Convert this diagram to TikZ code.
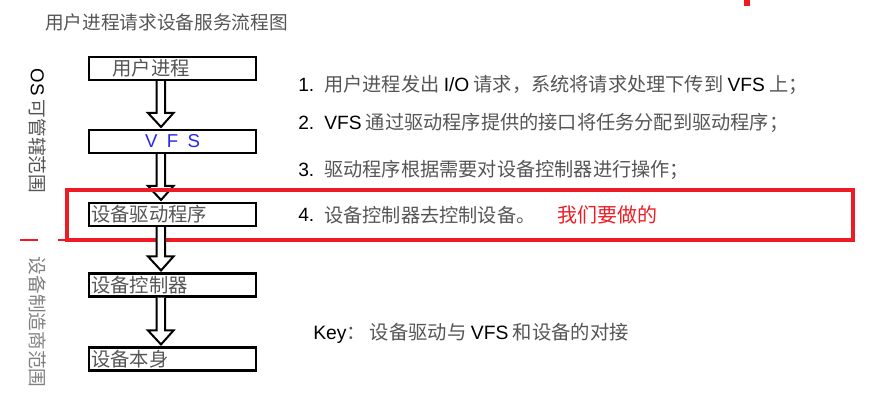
\documentclass[tikz,border=0pt]{standalone}
\usepackage{fontspec}
\setmainfont{Noto Sans CJK SC}
\newfontfamily\lat{Liberation Sans}
\usetikzlibrary{calc}
\definecolor{markred}{RGB}{237,28,36}
\definecolor{txtgray}{RGB}{85,85,85}
\definecolor{vfsblue}{RGB}{40,40,235}
\newcommand\en[1]{{\lat\color{black}#1}}
% hollow block arrow from the bottom of #1 to the top of #2
\newcommand\hollowdown[2]{%
  \draw[hollow] (#1.south -| 156.5,0) -- ($(#2.north -| 156.5,0)+(0,-16)$) -- ++(-8.5,0)
    -- ($(#2.north -| 161,0)+(0,-2)$) -- ($(#2.north -| 173.5,0)+(0,-16)$) -- ++(-8.5,0)
    -- (#1.south -| 165,0);}

\begin{document}
\begin{tikzpicture}[x=0.75pt,y=-0.75pt,
 layer/.style={draw,line width=1.8pt,minimum width=125pt,minimum height=17pt,
   inner xsep=1pt,inner ysep=0pt,text width=122pt,align=left,anchor=west,
   font=\fontsize{14.5}{16}\selectfont,text=txtgray},
 hollow/.style={draw,line width=1.5pt,fill=white,line join=miter},
 note/.style={anchor=west,inner sep=0pt,font=\fontsize{14.4}{18}\selectfont,text=txtgray},
 side/.style={rotate=-90,inner sep=0pt,font=\fontsize{14}{16}\selectfont,text=txtgray}]
\useasboundingbox (0,0) rectangle (874,406);

\node[anchor=west,inner sep=0pt,font=\fontsize{14}{16}\selectfont,text=txtgray] (title) at (45,22) {用户进程请求设备服务流程图};
\fill[markred] (744,0) rectangle (750,6);

% side labels
\node[side] (osrange) at (38,131) {\en{OS} 可管辖范围};
\node[side,text=gray] (makerrange) at (38,322) {设备制造商范围};

% layers
\node[layer] (user) at (88,68.5) {\hspace{16pt}用户进程};
\node[layer,align=center,text=vfsblue,font=\lat\fontsize{14}{16}\selectfont] (vfs) at (88,141.5) {V\enspace F\enspace S};
\node[layer] (driver) at (88,214.5) {设备驱动程序};
\node[layer] (ctrl) at (88,285) {设备控制器};
\node[layer] (dev) at (88,359) {设备本身};

\hollowdown{user}{vfs}
\hollowdown{vfs}{driver}

% our part
\draw[markred,line width=2pt,dash pattern=on 13.5pt off 15pt] (20,240) -- (773,240);
\draw[markred,line width=3pt] (67,190) rectangle (853,240);

\hollowdown{driver}{ctrl}
\hollowdown{ctrl}{dev}

% steps
\foreach \n/\y/\txt in {1/85/{用户进程发出 \en{I/O} 请求，系统将请求处理下传到 \en{VFS} 上；},
  2/123/{\en{VFS} 通过驱动程序提供的接口将任务分配到驱动程序；},
  3/170/{驱动程序根据需要对设备控制器进行操作；},
  4/215/{设备控制器去控制设备。}}{
  \node[note] (num\n) at (298,\y) {\en{\n.}};
  \node[note] (line\n) at (324,\y) {\txt};
}
\node[note,text=markred,font=\fontsize{15}{18}\selectfont] (ours) at (557,215) {我们要做的};

\node[note,font=\fontsize{14.5}{16}\selectfont] (key) at (313,333) {\en{Key}：\hspace{3pt}设备驱动与 \en{VFS} 和设备的对接};
\end{tikzpicture}
\end{document}
